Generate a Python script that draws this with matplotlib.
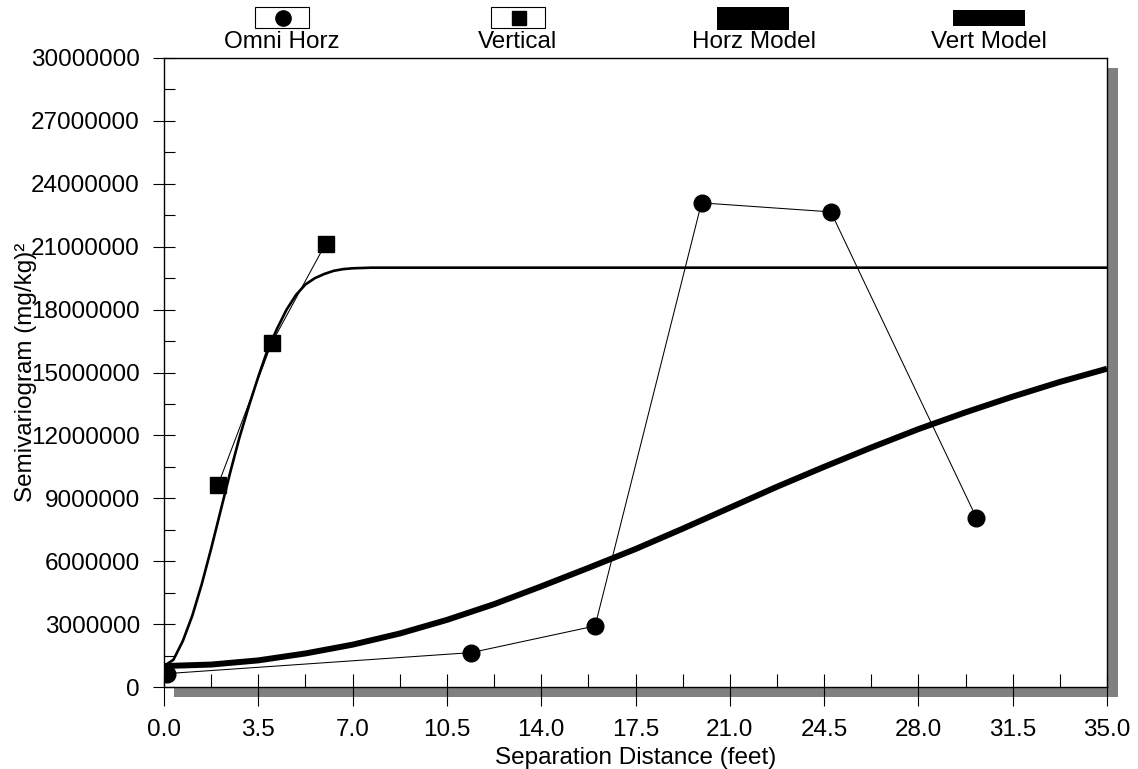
import numpy as np
import matplotlib
matplotlib.use("Agg")
import matplotlib.pyplot as plt
from matplotlib.patches import Rectangle
from matplotlib.lines import Line2D
from matplotlib.ticker import MultipleLocator, FormatStrFormatter, StrMethodFormatter

plt.rcParams['font.family'] = ['Liberation Sans', 'DejaVu Sans']

omni_x = [0.12, 11.4, 16.0, 19.95, 24.75, 30.15]
omni_y = [640000, 1640000, 2910000, 23090000, 22660000, 8080000]

vert_x = [2.0, 4.0, 6.0]
vert_y = [9620000, 16410000, 21150000]

## Fitted models (in millions)
horz_model_x = [0, 1.75, 3.5, 5.25, 7.0, 8.75, 10.5, 12.25, 14.0, 15.75, 17.5,
                19.25, 21.0, 22.75, 24.5, 26.25, 28.0, 29.75, 31.5, 33.25, 35.0]
horz_model_y = [1.00, 1.07, 1.27, 1.60, 2.02, 2.55, 3.20, 3.95, 4.80, 5.68, 6.58,
                7.55, 8.55, 9.55, 10.50, 11.42, 12.30, 13.10, 13.85, 14.55, 15.18]

vert_model_x = [0, 0.35, 0.7, 1.05, 1.4, 1.75, 2.1, 2.45, 2.8, 3.15, 3.5, 3.85,
                4.2, 4.55, 4.9, 5.25, 5.6, 5.95, 6.3, 6.65, 7.0, 7.7, 8.75, 35.0]
vert_model_y = [1.0, 1.3, 2.2, 3.4, 4.9, 6.6, 8.4, 10.2, 11.9, 13.4, 14.8, 16.1,
                17.1, 18.0, 18.7, 19.2, 19.5, 19.7, 19.85, 19.93, 19.97, 20.0, 20.0, 20.0]

legend_names = ["Omni Horz", "Vertical", "Horz Model", "Vert Model"]

W, H = 1138, 769
FS = 17.5


def fx(x):
    return x / W


def fy(y):
    return 1 - y / H


fig = plt.figure(figsize=(W / 100, H / 100), dpi=100)
ax = fig.add_axes([fx(164), fy(687), 943 / W, 629 / H])

## drop shadow behind the plot frame
shadow = Rectangle((fx(174), fy(697)), 944 / W, 629 / H, transform=fig.transFigure,
                   facecolor="#808080", edgecolor="none", zorder=-1)
fig.add_artist(shadow)

## models
ax.plot(horz_model_x, np.array(horz_model_y) * 1e6, color="black", lw=4.3,
        solid_capstyle="butt", zorder=3)
ax.plot(vert_model_x, np.array(vert_model_y) * 1e6, color="black", lw=1.9, zorder=3)

## experimental points
ax.plot(omni_x, omni_y, color="black", lw=0.75, marker="o", markersize=12, zorder=4)
ax.plot(vert_x, vert_y, color="black", lw=0.75, marker="s", markersize=11.5, zorder=4)

ax.set_xlim(0, 35)
ax.set_ylim(0, 30000000)

ax.xaxis.set_major_locator(MultipleLocator(3.5))
ax.xaxis.set_minor_locator(MultipleLocator(1.75))
ax.xaxis.remove_overlapping_locs = False
ax.xaxis.set_major_formatter(FormatStrFormatter("%.1f"))
ax.yaxis.set_major_locator(MultipleLocator(3000000))
ax.yaxis.set_minor_locator(MultipleLocator(1500000))
ax.yaxis.set_major_formatter(StrMethodFormatter("{x:.0f}"))

ax.tick_params(axis="x", which="major", direction="out", length=13.7, width=0.8,
               pad=9, labelsize=FS)
ax.tick_params(axis="x", which="minor", direction="in", length=9.4, width=0.8)
ax.tick_params(axis="y", which="major", direction="inout", length=15.8, width=0.8,
               pad=9.4, labelsize=FS)
ax.tick_params(axis="y", which="minor", direction="in", length=7.9, width=0.8)

for s in ax.spines.values():
    s.set_linewidth(1.0)

ax.set_xlabel("Separation Distance (feet)", fontsize=FS, labelpad=5)
ax.set_ylabel("Semivariogram (mg/kg)\u00b2", fontsize=FS)
ax.yaxis.set_label_coords(-0.135, 0.5)

## legend drawn above the frame
centers = [282, 518, 754, 989]
# marker boxes
for cx, mk, ms in [(centers[0], "o", 11), (centers[1], "s", 10)]:
    box = Rectangle((fx(cx - 27), fy(28)), 54 / W, 21 / H, transform=fig.transFigure,
                    facecolor="white", edgecolor="black", lw=0.8)
    fig.add_artist(box)
    fig.add_artist(Line2D([fx(cx + 1)], [fy(17.5)], marker=mk, markersize=ms,
                          color="black", linestyle="none", transform=fig.transFigure))
# model boxes
fig.add_artist(Rectangle((fx(717), fy(30)), 72 / W, 23 / H, transform=fig.transFigure,
                         facecolor="black", edgecolor="none"))
fig.add_artist(Rectangle((fx(953), fy(26)), 72 / W, 16 / H, transform=fig.transFigure,
                         facecolor="black", edgecolor="none"))
for cx, name in zip(centers, legend_names):
    fig.text(fx(cx), fy(48), name, fontsize=FS, ha="center", va="baseline")

fig.savefig("out.png", dpi=100)
